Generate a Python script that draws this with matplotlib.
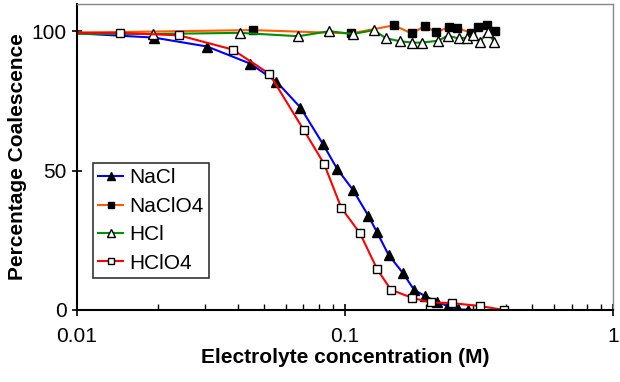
import matplotlib
matplotlib.use("Agg")
import matplotlib.pyplot as plt
from matplotlib.ticker import LogLocator, NullFormatter, FixedLocator

plt.rcParams["font.family"] = ["Liberation Sans", "DejaVu Sans"]

# NaCl (filled triangles)
nacl_x = [0.009, 0.0194, 0.0306, 0.0442, 0.0555, 0.0682, 0.0826, 0.0934, 0.1069,
          0.1222, 0.1313, 0.1453, 0.1646, 0.1810, 0.1989, 0.2199, 0.2429, 0.2640,
          0.2884, 0.3142]
nacl_y = [99.6, 97.8, 94.6, 88.5, 82.0, 72.7, 59.7, 50.7, 43.2,
          33.8, 28.1, 19.8, 13.2, 7.2, 5.0, 3.0, 1.3, 0.2,
          0.1, 0.0]

# NaClO4 (filled squares)
naclo4_x = [0.009, 0.0452, 0.1053, 0.1520, 0.1774, 0.1980, 0.2191, 0.2450, 0.2618,
            0.2952, 0.3144, 0.3388, 0.3614]
naclo4_y = [99.5, 100.5, 99.3, 102.2, 99.3, 101.9, 99.7, 101.7, 101.3,
            99.5, 101.6, 102.2, 100.0]

# HCl (open triangles)
hcl_x = [0.009, 0.0192, 0.0406, 0.0670, 0.0874, 0.1071, 0.1283, 0.1417, 0.1604,
         0.1778, 0.1937, 0.2230, 0.2413, 0.2658, 0.2853, 0.3011, 0.3181, 0.3401,
         0.3603]
hcl_y = [99.2, 99.1, 99.5, 98.3, 100.1, 99.1, 100.5, 97.6, 96.5,
         96.0, 96.0, 96.7, 98.5, 97.5, 97.8, 98.6, 96.2, 99.9,
         96.2]

# HClO4 (open squares)
hclo4_x = [0.009, 0.0145, 0.0241, 0.0381, 0.0522, 0.0703, 0.0835, 0.0968, 0.1138,
           0.1317, 0.1481, 0.1774, 0.2089, 0.2500, 0.3189, 0.3918]
hclo4_y = [99.6, 99.5, 98.6, 93.5, 84.8, 64.5, 52.5, 36.7, 27.5,
           14.7, 7.3, 4.4, 2.7, 2.5, 1.4, 0.0]

fig = plt.figure(figsize=(6.2, 3.82), dpi=100)
ax = fig.add_axes([0.124, 0.1885, 0.865, 0.802])

ax.plot(nacl_x, nacl_y, color="#0000FF", lw=1.5, marker="^", ms=7.5,
        mfc="black", mec="black", label="NaCl")
ax.plot(naclo4_x, naclo4_y, color="#FF5A00", lw=1.5, marker="s", ms=6,
        mfc="black", mec="black", label="NaClO4")
ax.plot(hcl_x, hcl_y, color="#009000", lw=1.5, marker="^", ms=7.5,
        mfc="white", mec="black", mew=1.0, label="HCl")
ax.plot(hclo4_x, hclo4_y, color="#FF0000", lw=1.5, marker="s", ms=6,
        mfc="white", mec="black", mew=1.0, label="HClO4")

ax.set_xscale("log")
ax.set_xlim(0.01, 1)
ax.set_ylim(0, 110)

ax.xaxis.set_major_locator(FixedLocator([0.01, 0.1, 1]))
ax.set_xticklabels(["0.01", "0.1", "1"])
ax.xaxis.set_minor_locator(LogLocator(base=10, subs=range(2, 10)))
ax.xaxis.set_minor_formatter(NullFormatter())
ax.set_yticks([0, 50, 100])

ax.tick_params(axis="x", which="major", direction="inout", length=8, width=1.2,
               labelsize=15, pad=8)
ax.tick_params(axis="x", which="minor", direction="in", length=4, width=1)
ax.tick_params(axis="y", which="major", direction="inout", length=7, width=1.2,
               labelsize=15, pad=4)

for side in ["left", "bottom"]:
    ax.spines[side].set_color("black")
    ax.spines[side].set_linewidth(1.5)
for side in ["top", "right"]:
    ax.spines[side].set_color("#888888")
    ax.spines[side].set_linewidth(1)

ax.set_xlabel("Electrolyte concentration (M)", fontsize=15, fontweight="bold",
              labelpad=2)
ax.set_ylabel("Percentage Coalescence", fontsize=15, fontweight="bold",
              labelpad=3)

leg = ax.legend(loc="lower left", bbox_to_anchor=(0.030, 0.105), borderaxespad=0,
                fontsize=15, frameon=True, fancybox=False, handlelength=1.2,
                handletextpad=0.3, labelspacing=0.45, borderpad=0.25,
                markerscale=0.75)
leg.get_frame().set_edgecolor("black")
leg.get_frame().set_linewidth(1.2)

fig.savefig("out.png", dpi=100)
